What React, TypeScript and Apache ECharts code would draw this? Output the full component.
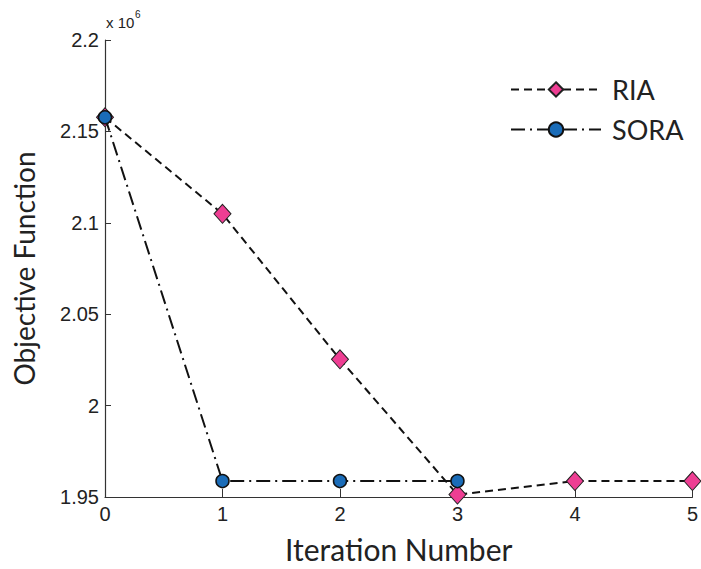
import React, { useEffect, useRef } from "react";
import * as echarts from "echarts";

const iterations = [0, 1, 2, 3, 4, 5];
const riaValues = [2.1577, 2.1049, 2.0253, 1.9513, 1.9587, 1.9587];
const soraIterations = [0, 1, 2, 3];
const soraValues = [2.1577, 1.9587, 1.9587, 1.9587];
const yTicks = { min: 1.95, max: 2.2, interval: 0.05 };

const TICK_FONT = "Arial";
const tickText = { fontFamily: TICK_FONT, fontSize: 20, color: "#222" };

export default function App() {
  const ref = useRef<HTMLDivElement>(null);
  useEffect(() => {
    if (!ref.current) return;
    const chart = echarts.init(ref.current, undefined, { renderer: "svg" });
    chart.setOption({
      animation: false,
      backgroundColor: "#ffffff",
      textStyle: { fontFamily: TICK_FONT, fontSize: 20 },
      grid: { left: 105, right: 7, top: 40, bottom: 63, containLabel: false },
      legend: {
        orient: "vertical",
        left: 505,
        top: 71,
        itemWidth: 90,
        itemHeight: 18,
        itemGap: 13,
        textStyle: { fontFamily: "Lato", fontSize: 27, color: "#222", padding: [0, 0, 0, 6] },
        data: ["RIA", "SORA"],
      },
      xAxis: {
        type: "value",
        min: 0,
        max: 5,
        interval: 1,
        name: "Iteration Number",
        nameLocation: "middle",
        nameGap: 37,
        nameTextStyle: { fontFamily: "Lato", fontSize: 30, color: "#222" },
        axisLine: { show: true, onZero: false, lineStyle: { color: "#333", width: 1.2 } },
        axisTick: { show: true, inside: true, length: 8, lineStyle: { color: "#333" } },
        axisLabel: {
          show: true,
          margin: 7,
          ...tickText,
          textStyle: { ...tickText },
        },
        splitLine: { show: false },
      },
      yAxis: {
        type: "value",
        min: yTicks.min,
        max: yTicks.max,
        interval: yTicks.interval,
        name: "Objective Function",
        nameLocation: "middle",
        nameRotate: 90,
        nameGap: 67,
        nameTextStyle: { fontFamily: "Lato", fontSize: 28, color: "#222" },
        axisLine: { show: true, lineStyle: { color: "#333", width: 1.2 } },
        axisTick: { show: true, inside: true, length: 6, lineStyle: { color: "#333" } },
        axisLabel: {
          show: true,
          margin: 6,
          ...tickText,
          textStyle: { ...tickText },
          formatter: (v: number) => String(parseFloat(v.toFixed(2))),
        },
        splitLine: { show: false },
      },
      graphic: [
        {
          type: "text",
          left: 106,
          top: 15,
          style: {
            text: "x 10",
            fontSize: 15,
            fontFamily: TICK_FONT,
            font: "15px Arial",
            fill: "#222",
          },
        },
        {
          type: "text",
          left: 135,
          top: 9,
          style: {
            text: "6",
            fontSize: 10,
            fontFamily: TICK_FONT,
            font: "10px Arial",
            fill: "#222",
          },
        },
      ],
      series: [
        {
          name: "RIA",
          type: "line",
          data: iterations.map((x, i) => [x, riaValues[i]]),
          symbol: "diamond",
          symbolSize: [17, 19],
          lineStyle: { color: "#111", width: 2, type: [8, 5] },
          itemStyle: { color: "#ee3e93", borderColor: "#222", borderWidth: 1 },
          z: 2,
        },
        {
          name: "SORA",
          type: "line",
          data: soraIterations.map((x, i) => [x, soraValues[i]]),
          symbol: "circle",
          symbolSize: 13,
          lineStyle: { color: "#111", width: 2, type: [14, 5, 2, 5] },
          itemStyle: { color: "#1a6cb8", borderColor: "#111", borderWidth: 1.5 },
          z: 3,
        },
      ],
    });
    return () => chart.dispose();
  }, []);
  return <div ref={ref} style={{ width: 701, height: 569, position: "absolute", left: 0, top: 0 }} />;
}
